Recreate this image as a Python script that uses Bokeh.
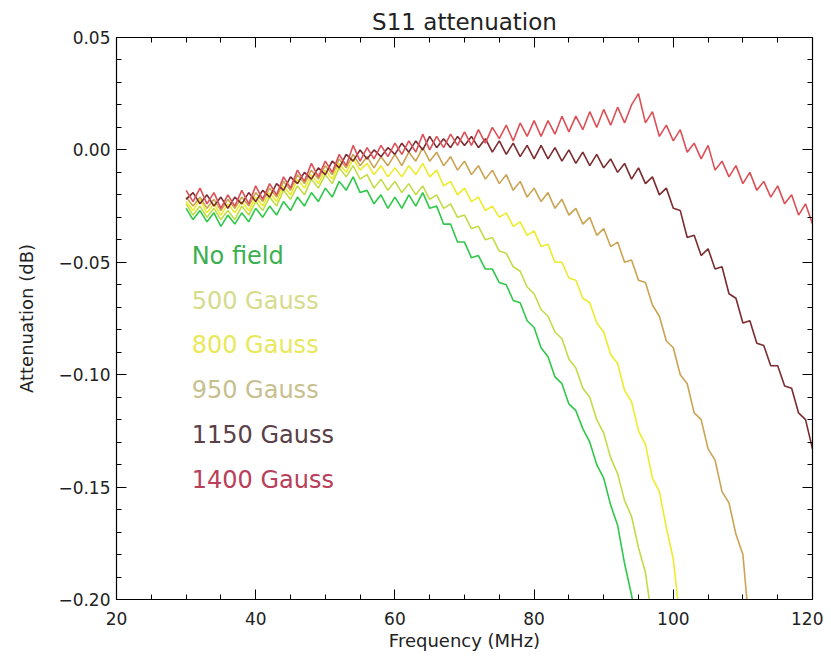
from bokeh.plotting import figure
from bokeh.models import (Range1d, LinearAxis, FixedTicker, ColumnDataSource)
from bokeh.core.properties import value
from bokeh.embed import file_html
from bokeh.resources import INLINE

# ---------------- data ----------------
title_text = "S11 attenuation"
x_label = "Frequency (MHz)"
y_label = "Attenuation (dB)"

x_ticks = [20, 40, 60, 80, 100, 120]
x_tick_labels = ["20", "40", "60", "80", "100", "120"]
y_ticks = [0.05, 0.0, -0.05, -0.10, -0.15, -0.20]
y_tick_labels = ["0.05", "0.00", "\u22120.05", "\u22120.10", "\u22120.15", "\u22120.20"]

series_names = ["No field", "500 Gauss", "800 Gauss", "950 Gauss", "1150 Gauss", "1400 Gauss"]

freq_start = 30  # MHz, one sample per MHz

no_field = [
    -0.026, -0.031, -0.027, -0.032, -0.028, -0.034, -0.029, -0.033, -0.028, -0.032,
    -0.026, -0.030, -0.025, -0.029, -0.023, -0.027, -0.021, -0.025, -0.019, -0.023,
    -0.017, -0.021, -0.014, -0.018, -0.012, -0.019, -0.018, -0.024, -0.020, -0.026,
    -0.021, -0.026, -0.020, -0.025, -0.019, -0.026, -0.025, -0.033, -0.033, -0.041,
    -0.041, -0.048, -0.047, -0.053, -0.053, -0.059, -0.060, -0.067, -0.068, -0.076,
    -0.079, -0.088, -0.092, -0.101, -0.104, -0.113, -0.116, -0.124, -0.130, -0.140,
    -0.146, -0.158, -0.167, -0.184, -0.198, -0.215]

gauss_500 = [
    -0.024, -0.029, -0.025, -0.030, -0.026, -0.031, -0.027, -0.031, -0.025, -0.029,
    -0.023, -0.027, -0.021, -0.025, -0.018, -0.022, -0.016, -0.020, -0.013, -0.017,
    -0.011, -0.015, -0.008, -0.012, -0.007, -0.013, -0.011, -0.017, -0.013, -0.018,
    -0.014, -0.019, -0.015, -0.020, -0.016, -0.022, -0.020, -0.026, -0.024, -0.030,
    -0.029, -0.035, -0.034, -0.040, -0.039, -0.045, -0.046, -0.052, -0.054, -0.061,
    -0.064, -0.071, -0.074, -0.081, -0.084, -0.093, -0.097, -0.106, -0.110, -0.120,
    -0.126, -0.137, -0.144, -0.156, -0.163, -0.177, -0.188, -0.210]

gauss_800 = [
    -0.023, -0.027, -0.022, -0.028, -0.024, -0.029, -0.024, -0.028, -0.023, -0.027,
    -0.021, -0.025, -0.019, -0.023, -0.016, -0.020, -0.013, -0.017, -0.011, -0.015,
    -0.009, -0.013, -0.006, -0.010, -0.004, -0.009, -0.006, -0.011, -0.007, -0.012,
    -0.008, -0.012, -0.007, -0.011, -0.006, -0.012, -0.009, -0.016, -0.014, -0.020,
    -0.017, -0.023, -0.021, -0.027, -0.025, -0.030, -0.028, -0.034, -0.032, -0.038,
    -0.036, -0.043, -0.042, -0.050, -0.050, -0.057, -0.058, -0.066, -0.068, -0.077,
    -0.081, -0.091, -0.095, -0.107, -0.112, -0.125, -0.131, -0.146, -0.152, -0.168,
    -0.182, -0.210]

gauss_950 = [
    -0.021, -0.025, -0.021, -0.026, -0.022, -0.027, -0.022, -0.026, -0.021, -0.025,
    -0.019, -0.023, -0.017, -0.021, -0.014, -0.018, -0.011, -0.015, -0.009, -0.013,
    -0.007, -0.011, -0.004, -0.008, -0.002, -0.007, -0.003, -0.008, -0.003, -0.007,
    -0.002, -0.007, -0.001, -0.005, 0.001, -0.005, -0.001, -0.007, -0.003, -0.009,
    -0.005, -0.011, -0.007, -0.013, -0.009, -0.015, -0.011, -0.018, -0.014, -0.021,
    -0.017, -0.023, -0.019, -0.026, -0.022, -0.029, -0.026, -0.033, -0.030, -0.038,
    -0.035, -0.043, -0.041, -0.050, -0.049, -0.058, -0.059, -0.069, -0.074, -0.085,
    -0.088, -0.100, -0.104, -0.117, -0.120, -0.133, -0.138, -0.152, -0.157, -0.171,
    -0.180, -0.215]

gauss_1150 = [
    -0.022, -0.019, -0.024, -0.020, -0.025, -0.021, -0.026, -0.021, -0.024, -0.019,
    -0.023, -0.018, -0.021, -0.015, -0.018, -0.012, -0.015, -0.010, -0.013, -0.008,
    -0.011, -0.005, -0.008, -0.002, -0.005, 0.000, -0.004, 0.000, -0.003, 0.001,
    -0.002, 0.003, -0.001, 0.004, 0.000, 0.006, 0.001, 0.005, 0.001, 0.006,
    0.002, 0.006, 0.001, 0.005, -0.001, 0.004, -0.002, 0.003, -0.003, 0.002,
    -0.004, 0.002, -0.004, 0.001, -0.005, 0.000, -0.006, -0.001, -0.007, -0.002,
    -0.008, -0.004, -0.010, -0.006, -0.013, -0.008, -0.015, -0.012, -0.020, -0.017,
    -0.026, -0.027, -0.039, -0.038, -0.047, -0.044, -0.053, -0.052, -0.064, -0.066,
    -0.077, -0.076, -0.086, -0.087, -0.096, -0.096, -0.105, -0.106, -0.117, -0.120,
    -0.133]

gauss_1400 = [
    -0.018, -0.023, -0.017, -0.024, -0.019, -0.026, -0.020, -0.025, -0.018, -0.024,
    -0.016, -0.022, -0.015, -0.020, -0.012, -0.017, -0.009, -0.014, -0.006, -0.012,
    -0.005, -0.010, -0.002, -0.007, 0.002, -0.005, 0.001, -0.004, 0.002, -0.003,
    0.003, -0.002, 0.004, -0.001, 0.007, 0.000, 0.006, 0.001, 0.007, 0.002,
    0.008, 0.002, 0.009, 0.003, 0.010, 0.005, 0.011, 0.004, 0.012, 0.006,
    0.013, 0.006, 0.013, 0.007, 0.015, 0.008, 0.015, 0.009, 0.017, 0.010,
    0.018, 0.011, 0.019, 0.012, 0.020, 0.025, 0.012, 0.017, 0.006, 0.011,
    0.004, 0.009, -0.001, 0.003, -0.004, 0.002, -0.009, -0.005, -0.012, -0.007,
    -0.015, -0.010, -0.018, -0.014, -0.021, -0.016, -0.024, -0.020, -0.029, -0.024,
    -0.033]

series_values = [no_field, gauss_500, gauss_800, gauss_950, gauss_1150, gauss_1400]
line_colors = ["#2ec84a", "#c2dc48", "#ecec2c", "#caa452", "#7a2c30", "#dc5058"]
label_colors = ["#3cb050", "#d6dc8c", "#e8e85a", "#c8c08e", "#5a4048", "#b8405a"]

# legend text anchor positions (data units)
legend_x = [30.8] * 6
legend_y = [-0.047, -0.067, -0.087, -0.107, -0.127, -0.147]

# ---------------- figure ----------------
FONT = "DejaVu Sans"

p = figure(width=823, height=655, output_backend="svg", toolbar_location=None,
           x_range=Range1d(20, 120), y_range=Range1d(-0.20, 0.05),
           min_border_left=116, min_border_right=11, min_border_top=37,
           min_border_bottom=56, x_axis_location=None, y_axis_location=None)
p.outline_line_color = None
p.xgrid.visible = False
p.ygrid.visible = False
p.background_fill_color = "white"
p.border_fill_color = "white"

p.title.text = title_text
p.title.align = "center"
p.title.text_font = FONT
p.title.text_font_size = "23px"
p.title.text_font_style = "normal"
p.title.text_color = "#222222"
p.title.standoff = 5

xt = FixedTicker(ticks=x_ticks, minor_ticks=[20 + 5 * i for i in range(21)])
yt = FixedTicker(ticks=y_ticks, minor_ticks=[round(-0.20 + 0.01 * i, 2) for i in range(26)])


def style_axis(ax):
    ax.axis_line_color = "black"
    ax.axis_line_width = 1.2
    ax.major_tick_line_color = "black"
    ax.minor_tick_line_color = "black"
    ax.major_tick_in = 10
    ax.major_tick_out = 0
    ax.minor_tick_in = 5
    ax.minor_tick_out = 0
    ax.major_label_text_font = FONT
    ax.major_label_text_font_size = "17px"
    ax.major_label_text_color = "#222222"
    ax.axis_label_text_font = FONT
    ax.axis_label_text_font_size = "18px"
    ax.axis_label_text_font_style = "normal"
    ax.axis_label_text_color = "#222222"


xb = LinearAxis(ticker=xt, axis_label=x_label,
                major_label_overrides=dict(zip(x_ticks, x_tick_labels)))
style_axis(xb)
xb.major_label_standoff = 12
xb.axis_label_standoff = 2
p.add_layout(xb, "below")

xa = LinearAxis(ticker=xt, major_label_overrides={t: "" for t in x_ticks})
style_axis(xa)
xa.major_label_standoff = 0
p.add_layout(xa, "above")

yl = LinearAxis(ticker=yt, axis_label=y_label,
                major_label_overrides=dict(zip(y_ticks, y_tick_labels)))
style_axis(yl)
yl.major_label_standoff = 6
yl.axis_label_standoff = 18
p.add_layout(yl, "left")

yr = LinearAxis(ticker=yt, major_label_overrides={t: "" for t in y_ticks})
style_axis(yr)
yr.major_label_standoff = 0
p.add_layout(yr, "right")

for vals, col in zip(series_values, line_colors):
    xs = [freq_start + i for i in range(len(vals))]
    p.line(xs, vals, line_color=col, line_width=1.6)

src = ColumnDataSource(dict(x=legend_x, y=legend_y, text=series_names, color=label_colors))
p.text(x="x", y="y", text="text", source=src, text_color="color",
       text_font=value(FONT), text_font_size="24px",
       text_baseline="middle", text_align="left")

open("out.html", "w").write(file_html(p, INLINE))
